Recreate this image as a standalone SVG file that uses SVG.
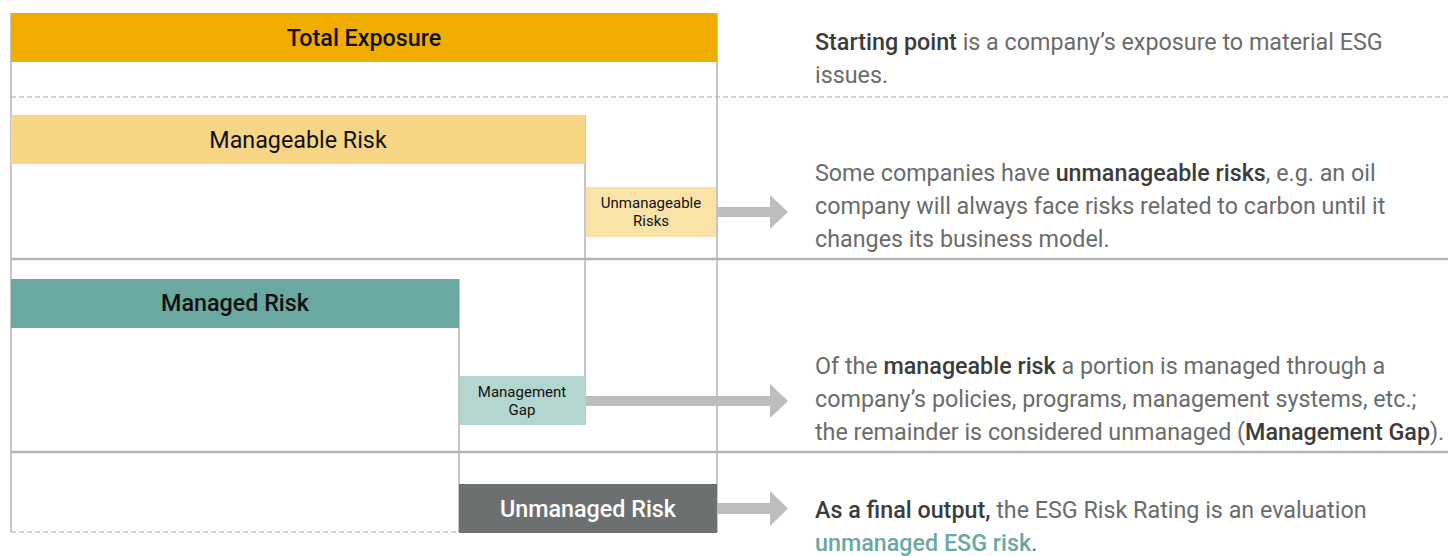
<svg xmlns="http://www.w3.org/2000/svg" width="1448" height="556" viewBox="0 0 1448 556">
<style>
.lbl{font-family:Roboto,"Liberation Sans",sans-serif;text-anchor:middle;fill:#111}
.big{font-size:23.3px}
.small{font-size:15px}
.b{font-weight:500}
.desc{font-family:Roboto,"Liberation Sans",sans-serif;font-size:23.3px;fill:#6b6b6b}
.desc .s{font-weight:500;fill:#3c3c3c}
.vline{stroke:#b3b3b3;stroke-width:1.5;fill:none}
.hline{stroke:#b3b3b3;stroke-width:2.5;fill:none}
.dash{stroke:#c4c4c4;stroke-width:1.5;stroke-dasharray:5 3;fill:none}
.arrow{fill:#bdbdbd}
</style>
<rect width="1448" height="556" fill="#ffffff"/>
<g id="frame">
<line class="dash" x1="11" y1="97" x2="1448" y2="97"/>
<line class="hline" x1="11" y1="259" x2="1448" y2="259"/>
<line class="hline" x1="11" y1="452" x2="1448" y2="452"/>
<line class="dash" x1="11" y1="532" x2="717" y2="532"/>
<line class="vline" x1="11" y1="13" x2="11" y2="532"/>
<line class="vline" x1="717" y1="13" x2="717" y2="532"/>
<line class="vline" x1="585" y1="115" x2="585" y2="425"/>
<line class="vline" x1="459" y1="279" x2="459" y2="532"/>
</g>
<g id="total-exposure">
<rect x="11" y="13" width="706" height="49" fill="#f0ad00"/>
<text class="lbl big b" x="364" y="46">Total Exposure</text>
</g>
<g id="manageable-risk">
<rect x="11" y="115" width="574" height="49" fill="#f6d584"/>
<text class="lbl big" x="298" y="148">Manageable Risk</text>
</g>
<g id="unmanageable-risks">
<rect x="586" y="187" width="130" height="50" fill="#f9e3a9"/>
<text class="lbl small" x="651" y="208">Unmanageable</text>
<text class="lbl small" x="651" y="226">Risks</text>
</g>
<g id="managed-risk">
<rect x="11" y="279" width="448" height="49" fill="#6aa8a2"/>
<text class="lbl big b" x="235" y="311">Managed Risk</text>
</g>
<g id="management-gap">
<rect x="460" y="376" width="125" height="49" fill="#b3d7d0"/>
<text class="lbl small" x="522" y="397">Management</text>
<text class="lbl small" x="522" y="415">Gap</text>
</g>
<g id="unmanaged-risk">
<rect x="459" y="484" width="258" height="49" fill="#6d7070"/>
<text class="lbl big b" x="588" y="517" style="fill:#ffffff">Unmanaged Risk</text>
</g>
<g id="connectors">
<polygon class="arrow" points="717,207 770,207 770,195 788,212 770,229 770,217 717,217"/>
<polygon class="arrow" points="586,396 770,396 770,384 788,401 770,418 770,406 586,406"/>
<polygon class="arrow" points="717,503 770,503 770,491 788,508.5 770,526 770,514 717,514"/>
</g>
<g id="text-starting">
<text class="desc" x="815" y="50"><tspan class="s">Starting point</tspan> is a company’s exposure to material ESG</text>
<text class="desc" x="815" y="83">issues.</text>
</g>
<g id="text-unmanageable">
<text class="desc" x="815" y="181">Some companies have <tspan class="s">unmanageable risks</tspan>, e.g. an oil</text>
<text class="desc" x="815" y="214">company will always face risks related to carbon until it</text>
<text class="desc" x="815" y="247">changes its business model.</text>
</g>
<g id="text-managed">
<text class="desc" x="815" y="374">Of the <tspan class="s">manageable risk</tspan> a portion is managed through a</text>
<text class="desc" x="815" y="407">company’s policies, programs, management systems, etc.;</text>
<text class="desc" x="815" y="440">the remainder is considered unmanaged (<tspan class="s">Management Gap</tspan>).</text>
</g>
<g id="text-final">
<text class="desc" x="815" y="518"><tspan class="s">As a final output,</tspan> the ESG Risk Rating is an evaluation</text>
<text class="desc" x="815" y="551"><tspan style="fill:#6aa8a2;font-weight:500">unmanaged ESG risk</tspan>.</text>
</g>
</svg>
